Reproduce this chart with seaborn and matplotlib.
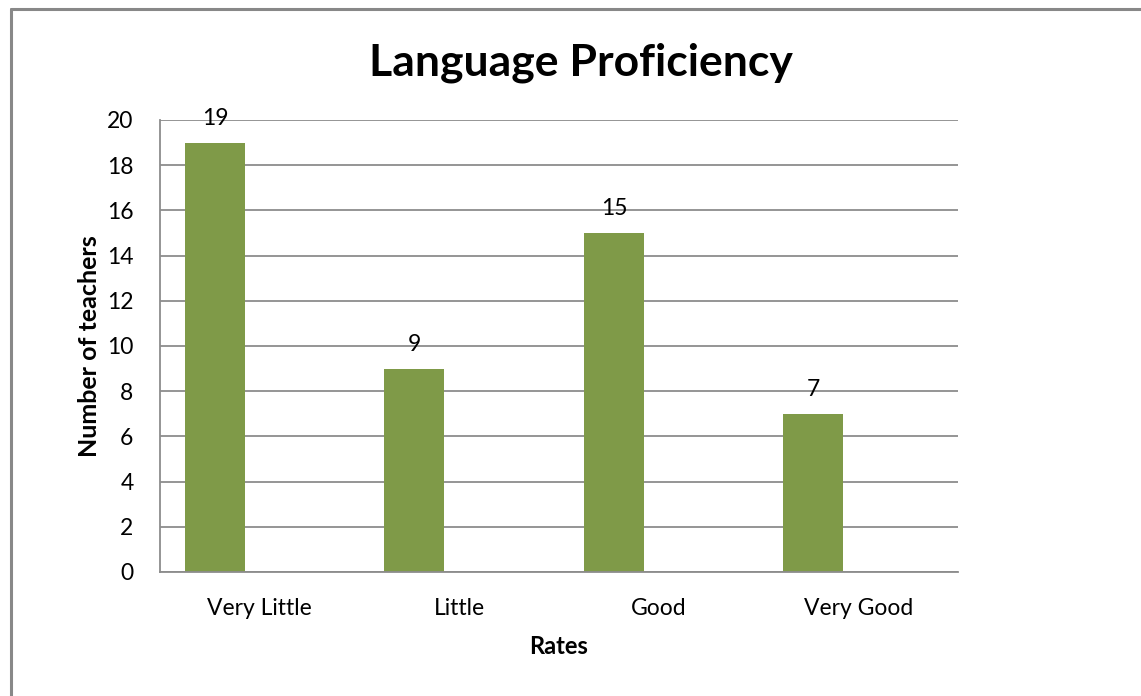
import pandas as pd
import numpy as np
import seaborn as sns
import matplotlib.pyplot as plt
from matplotlib.lines import Line2D

# Values
rates = ["Very Little", "Little", "Good", "Very Good"]
teachers = [19, 9, 15, 7]
empty_series = [np.nan, np.nan, np.nan, np.nan]  # the chart leaves room for an empty 2nd series
yticks = [0, 2, 4, 6, 8, 10, 12, 14, 16, 18, 20]

green = "#7F9A48"
grid_grey = "#8C8C8C"

df = pd.DataFrame({
	"Rates": rates * 2,
	"Number of teachers": teachers + empty_series,
	"series": ["Series1"] * 4 + ["Series2"] * 4,
})

sns.set_style("white")
plt.rcParams["font.family"] = ["Lato", "DejaVu Sans"]
plt.rcParams["text.color"] = "black"
plt.rcParams["axes.labelcolor"] = "black"
plt.rcParams["xtick.color"] = "black"
plt.rcParams["ytick.color"] = "black"

fig = plt.figure(figsize=(11.41, 6.96), dpi=100)
ax = fig.add_axes([160 / 1141, 1 - 572 / 696, 798 / 1141, 452 / 696])

sns.barplot(data=df, x="Rates", y="Number of teachers", hue="series",
	hue_order=["Series1", "Series2"], palette=[green, green],
	width=0.9, gap=1 / 3, legend=False, ax=ax, errorbar=None,
	linewidth=0, saturation=1)

ax.bar_label(ax.containers[0], labels=[str(v) for v in teachers], padding=10, fontsize=16.5)

ax.set_ylim(0, 20)
ax.set_xlim(-0.5, 3.5)
ax.set_yticks(yticks)
ax.tick_params(axis="y", labelsize=16.5, length=0, pad=19)
ax.tick_params(axis="x", labelsize=16.5, length=0, pad=19)
ax.yaxis.grid(True, color=grid_grey, linewidth=1.3)
ax.set_axisbelow(True)
for side in ["top", "right"]:
	ax.spines[side].set_visible(False)
for side in ["left", "bottom"]:
	ax.spines[side].set_color(grid_grey)
	ax.spines[side].set_linewidth(1.3)

ax.set_xlabel("Rates", fontsize=17, fontweight="bold", labelpad=11)
ax.set_ylabel("Number of teachers", fontsize=18, fontweight="bold", labelpad=4)

fig.text(581 / 1141, 1 - 63 / 696, "Language Proficiency", fontsize=32,
	fontweight="bold", ha="center", va="center")

# chart frame (left and top edges only show in the crop)
fig.add_artist(Line2D([10.5 / 1141, 10.5 / 1141], [0, 1 - 8.5 / 696], color="#888888", linewidth=2.2))
fig.add_artist(Line2D([10.5 / 1141, 1], [1 - 8.5 / 696, 1 - 8.5 / 696], color="#888888", linewidth=2.2))

plt.savefig("out.png", dpi=100)
